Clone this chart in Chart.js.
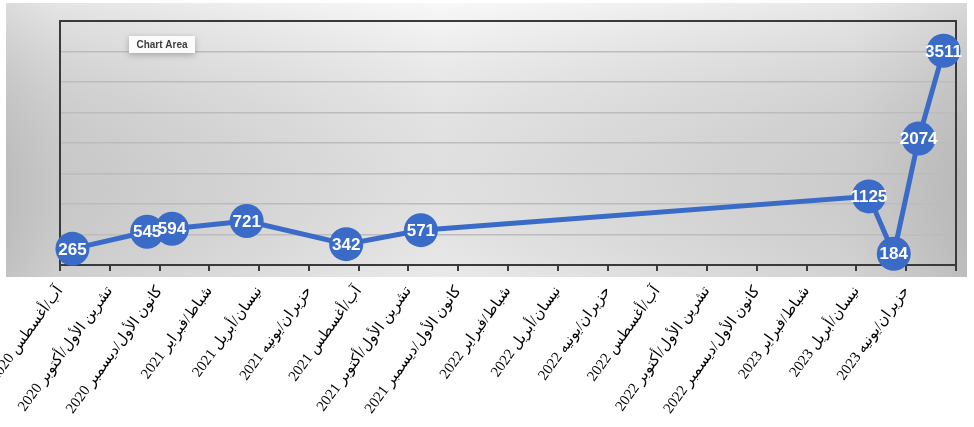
<!DOCTYPE html>
<html>
<head>
<meta charset="utf-8">
<script src="https://cdn.jsdelivr.net/npm/chart.js@4/dist/chart.umd.min.js"></script>
<style>
  html, body { margin: 0; padding: 0; background: #ffffff; }
  #wrap { width: 974px; height: 427px; position: relative; }
  canvas { direction: rtl; }
</style>
</head>
<body>
<div id="wrap"><canvas id="c" width="974" height="427"></canvas></div>
<script>
// ---- data ----
const tickLabels = [
  'آب/أغسطس 2020',
  'تشرين الأول/أكتوبر 2020',
  'كانون الأول/ديسمبر 2020',
  'شباط/فبراير 2021',
  'نيسان/أبريل 2021',
  'حزيران/يونيه 2021',
  'آب/أغسطس 2021',
  'تشرين الأول/أكتوبر 2021',
  'كانون الأول/ديسمبر 2021',
  'شباط/فبراير 2022',
  'نيسان/أبريل 2022',
  'حزيران/يونيه 2022',
  'آب/أغسطس 2022',
  'تشرين الأول/أكتوبر 2022',
  'كانون الأول/ديسمبر 2022',
  'شباط/فبراير 2023',
  'نيسان/أبريل 2023',
  'حزيران/يونيه 2023'
];
const pointMonths = ['2020-08', '2020-11', '2020-12', '2021-03', '2021-07', '2021-10', '2023-04', '2023-05', '2023-06', '2023-07'];
const pointValues = [265, 545, 594, 721, 342, 571, 1125, 184, 2074, 3511];

// months counted from August 2020 (axis start), points at mid-month
function monthOffset(s) {
  const [y, m] = s.split('-').map(Number);
  return (y - 2020) * 12 + (m - 8) + 0.5;
}
const points = pointMonths.map((d, i) => ({ x: monthOffset(d), y: pointValues[i] }));

const BLUE = '#3a6bc6';

const bgPlugin = {
  id: 'bg',
  beforeDraw(chart) {
    const ctx = chart.ctx;
    ctx.save();
    const x0 = 6, y0 = 3, x1 = 967, y1 = 277;
    const g = ctx.createLinearGradient(x0, 0, x1, 0);
    g.addColorStop(0, '#cdcdcd');
    g.addColorStop(0.05, '#d9d9d9');
    g.addColorStop(0.45, '#f6f6f6');
    g.addColorStop(0.88, '#dedede');
    g.addColorStop(1, '#c8c8c8');
    ctx.fillStyle = g;
    ctx.fillRect(x0, y0, x1 - x0, y1 - y0);
    const v = ctx.createLinearGradient(0, y0, 0, y1);
    v.addColorStop(0, 'rgba(255,255,255,0.3)');
    v.addColorStop(1, 'rgba(0,0,0,0.05)');
    ctx.fillStyle = v;
    ctx.fillRect(x0, y0, x1 - x0, y1 - y0);
    ctx.restore();
  },
  beforeDatasetsDraw(chart) {
    const ctx = chart.ctx, a = chart.chartArea;
    ctx.save();
    ctx.strokeStyle = '#3a3a3a';
    ctx.lineWidth = 2;
    ctx.strokeRect(a.left, a.top, a.right - a.left, a.bottom - a.top);
    ctx.restore();
  },
  afterDatasetsDraw(chart) {
    const ctx = chart.ctx;
    const meta = chart.getDatasetMeta(0);
    ctx.save();
    ctx.fillStyle = '#ffffff';
    ctx.font = 'bold 17px "Liberation Sans", Arial, sans-serif';
    ctx.textAlign = 'center';
    ctx.textBaseline = 'middle';
    ctx.direction = 'ltr';
    meta.data.forEach((el, i) => {
      ctx.fillText(String(pointValues[i]), el.x, el.y + 1);
    });
    ctx.restore();
  },
  afterDraw(chart) {
    const ctx = chart.ctx;
    ctx.save();
    ctx.direction = 'ltr';
    ctx.shadowColor = 'rgba(0,0,0,0.25)';
    ctx.shadowBlur = 6;
    ctx.shadowOffsetY = 2;
    ctx.fillStyle = '#fbfbfb';
    ctx.fillRect(129, 36, 66, 17);
    ctx.shadowColor = 'transparent';
    ctx.fillStyle = '#3c3c3c';
    ctx.font = 'bold 10px "Liberation Sans", Arial, sans-serif';
    ctx.textAlign = 'center';
    ctx.textBaseline = 'middle';
    ctx.fillText('Chart Area', 162, 45);
    ctx.restore();
  }
};

new Chart(document.getElementById('c'), {
  type: 'line',
  data: {
    datasets: [{
      data: points,
      borderColor: BLUE,
      borderWidth: 5,
      backgroundColor: BLUE,
      pointBackgroundColor: BLUE,
      pointBorderWidth: 0,
      pointRadius: 17,
      pointHoverRadius: 17,
      tension: 0,
      clip: false
    }]
  },
  options: {
    responsive: false,
    animation: false,
    events: [],
    layout: { padding: { left: 60, right: 18, top: 21, bottom: 0 } },
    plugins: { legend: { display: false }, tooltip: { enabled: false } },
    scales: {
      x: {
        type: 'linear',
        min: 0,
        max: 36,
        afterFit(scale) { scale.height = 162; scale.paddingLeft = 0; scale.paddingRight = 0; },
        grid: { drawOnChartArea: false, drawTicks: true, tickLength: 6, color: '#3a3a3a', lineWidth: 2 },
        border: { display: false },
        ticks: {
          stepSize: 2,
          autoSkip: false,
          minRotation: 54,
          maxRotation: 54,
          padding: 12,
          color: '#000000',
          font: { family: '"Liberation Serif", "Times New Roman", "DejaVu Serif", "DejaVu Sans", serif', size: 15 },
          callback: (v) => (v % 2 === 0 && tickLabels[v / 2] !== undefined) ? tickLabels[v / 2] : ''
        }
      },
      y: {
        min: 0,
        max: 4000,
        afterFit(scale) { scale.width = 0; },
        grid: {
          drawTicks: false,
          color: (c) => (c.tick && (c.tick.value === 0 || c.tick.value === 4000)) ? 'rgba(0,0,0,0)' : '#bcbcbc',
          lineWidth: 1.5
        },
        border: { display: false },
        ticks: { display: false, stepSize: 500 }
      }
    }
  },
  plugins: [bgPlugin]
});
</script>
</body>
</html>
